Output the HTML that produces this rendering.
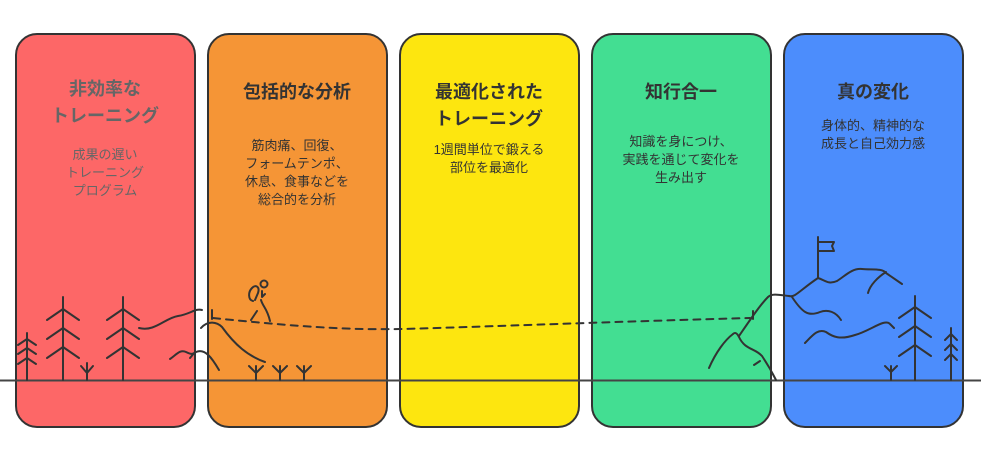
<!DOCTYPE html>
<html><head><meta charset="utf-8"><style>
html,body{margin:0;padding:0;background:#fff;width:981px;height:451px;overflow:hidden;font-family:"Liberation Sans","Noto Sans CJK JP",sans-serif}
.b{position:absolute;top:33px;width:178px;height:395px;border:2px solid #333;border-radius:22px;box-sizing:border-box}
.t{position:absolute;width:180px;text-align:center;font-weight:bold;font-size:18px;line-height:27px;color:#333}
.s{position:absolute;width:180px;text-align:center;font-size:13px;line-height:18px;color:#333}
</style></head><body>
<div class="b" style="left:15px;width:181px;background:#fd6767"></div>
<div class="b" style="left:207px;width:181px;background:#f59536"></div>
<div class="b" style="left:399px;width:181px;background:#fde60f"></div>
<div class="b" style="left:591px;width:181px;background:#43de92"></div>
<div class="b" style="left:783px;width:181px;background:#4c8dfc"></div>

<div class="t" style="left:15px;top:76px;color:#666">非効率な<br>トレーニング</div>
<div class="s" style="left:15px;top:146px;color:#666">成果の遅い<br>トレーニング<br>プログラム</div>
<div class="t" style="left:207px;top:79px">包括的な分析</div>
<div class="s" style="left:207px;top:137px">筋肉痛、回復、<br>フォームテンポ、<br>休息、食事などを<br>総合的を分析</div>
<div class="t" style="left:399px;top:79px">最適化された<br>トレーニング</div>
<div class="s" style="left:399px;top:141px">1週間単位で鍛える<br>部位を最適化</div>
<div class="t" style="left:591px;top:79px">知行合一</div>
<div class="s" style="left:591px;top:133px">知識を身につけ、<br>実践を通じて変化を<br>生み出す</div>
<div class="t" style="left:783px;top:79px">真の変化</div>
<div class="s" style="left:783px;top:117px">身体的、精神的な<br>成長と自己効力感</div>

<svg width="981" height="451" style="position:absolute;left:0;top:0" fill="none" stroke="#333" stroke-width="2" stroke-linecap="round" stroke-linejoin="round">
<line x1="0" y1="380.5" x2="981" y2="380.5" stroke="#444"/>
<path d="M27 380V333M18 345l9-6 9 6M18 354l9-6 9 6M18 364l9-6 9 6"/>
<path d="M63 380V297M47 320l16-11 16 11M47 339l16-11 16 11M47 358l16-11 16 11"/>
<path d="M123 380V297M107 320l16-11 16 11M107 339l16-11 16 11M107 358l16-11 16 11"/>
<path d="M87 380V363M81 366l6 7 6-7"/>
<path d="M139 328C155 332 165 318 178 316S195 308 202 310"/>
<path d="M170 359C176 355 180 349 186 352S193 354 196 352M190 358l5-6M196 352C205 348 212 358 219 370"/>
<path d="M201 328C208 320 217 322 222 327C235 345 248 356 265 362"/>
<path d="M212 310v9"/>
<path d="M256 380v-14M249 366l7 7 7-7M280 380v-14M273 366l7 7 7-7M304 380v-14M297 366l7 7 7-7"/>
<circle cx="264" cy="284" r="3.5"/>
<path d="M253 301C248 300 248 292 252 288C256 284 260 287 258 293L255 300"/>
<path d="M262 291v6l3-3M261 300C263 307 267 308 270 321M257 311l-6 9"/>
<path d="M213 318C300 327 350 330 400 329S600 322 750 318" stroke-dasharray="7,6"/>
<path d="M753 311v8"/>
<path d="M709 368C716 352 725 340 733 334C735 332 737 333 739 337C745 350 755 348 762 356C768 365 772 372 776 380"/>
<path d="M754 365l6-4"/>
<path d="M739 336C750 320 760 305 768 297C772 293 780 295 789 296"/>
<path d="M789 296C795 298 800 290 818 278C825 280 828 285 837 281C845 276 852 268 862 269S882 268 886 273L902 284"/>
<path d="M886 272C878 277 870 285 868 293"/>
<path d="M792 297C802 312 808 317 820 312C828 309 836 312 841 320"/>
<path d="M805 343C812 336 818 328 826 332C833 337 840 340 855 335C870 331 885 318 890 324L894 328"/>
<path d="M818 278V237M818 242h16l-2 4 2 5h-16"/>
<path d="M915 380V296M899 318l16-11 16 11M899 337l16-11 16 11M899 356l16-11 16 11"/>
<path d="M951 380V328M945 340l6-6 6 6M945 350l6-6 6 6M945 360l6-6 6 6"/>
<path d="M891 380v-14M885 366l6 6 6-6"/>
</svg>
</body></html>
